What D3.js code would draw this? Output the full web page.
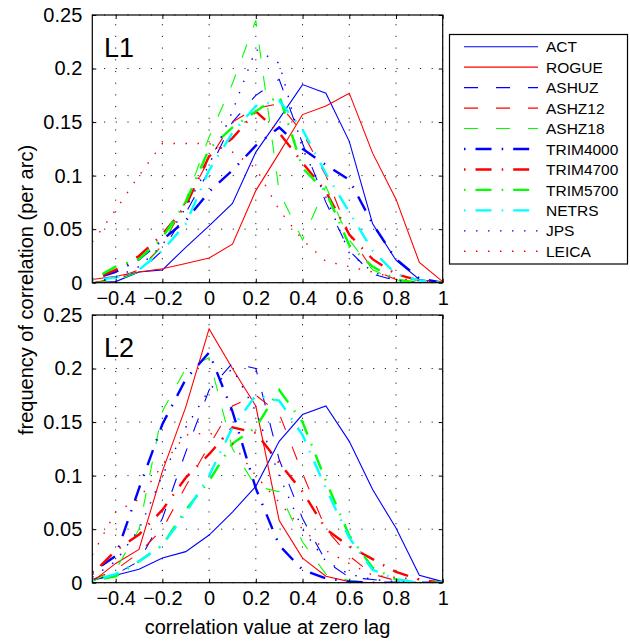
<!DOCTYPE html>
<html>
<head>
<meta charset="utf-8">
<script src="https://cdn.jsdelivr.net/npm/d3@7"></script>
<style>
  body { margin: 0; background: #fff; }
  svg { display: block; font-family: "Liberation Sans", Arial, Helvetica, sans-serif; }
</style>
</head>
<body>
<script>
// histogram bin centres (correlation value)
const xBins = [-0.5, -0.4, -0.3, -0.2, -0.1, 0, 0.1, 0.2, 0.3, 0.4, 0.5, 0.6, 0.7, 0.8, 0.9, 1.0];
const seriesNames = ["ACT", "ROGUE", "ASHUZ", "ASHZ12", "ASHZ18", "TRIM4000", "TRIM4700", "TRIM5700", "NETRS", "JPS", "LEICA"];
const xTicks = [-0.4, -0.2, 0, 0.2, 0.4, 0.6, 0.8, 1];
const yTicks = [0, 0.05, 0.1, 0.15, 0.2, 0.25];

// L1
const l1Act      = [0, 0.001, 0.010, 0.012, 0.033, 0.053, 0.074, 0.122, 0.153, 0.185, 0.177, 0.132, 0.055, 0.021, 0.003, 0];
const l1Rogue    = [0.003, 0.006, 0.010, 0.013, 0.018, 0.023, 0.036, 0.086, 0.121, 0.157, 0.165, 0.177, 0.121, 0.078, 0.019, 0.001];
const l1Ashuz    = [0, 0.003, 0.010, 0.030, 0.065, 0.105, 0.150, 0.175, 0.190, 0.130, 0.075, 0.030, 0.008, 0.002, 0, 0];
const l1Ashz12   = [0, 0.004, 0.012, 0.035, 0.075, 0.115, 0.150, 0.163, 0.167, 0.140, 0.100, 0.045, 0.012, 0.003, 0, 0];
const l1Ashz18   = [0, 0.002, 0.010, 0.035, 0.077, 0.136, 0.186, 0.245, 0.085, 0.040, 0.090, 0.040, 0.012, 0.002, 0, 0];
const l1Trim4000 = [0.003, 0.010, 0.022, 0.040, 0.058, 0.085, 0.105, 0.128, 0.145, 0.125, 0.110, 0.096, 0.055, 0.022, 0.004, 0];
const l1Trim4700 = [0.003, 0.012, 0.025, 0.045, 0.072, 0.118, 0.135, 0.160, 0.140, 0.112, 0.085, 0.045, 0.022, 0.008, 0.002, 0];
const l1Trim5700 = [0.003, 0.015, 0.022, 0.042, 0.075, 0.125, 0.145, 0.160, 0.175, 0.107, 0.085, 0.035, 0.015, 0.003, 0, 0];
const l1Netrs    = [0.002, 0.005, 0.012, 0.030, 0.055, 0.105, 0.140, 0.165, 0.170, 0.143, 0.102, 0.066, 0.030, 0.008, 0.002, 0];
const l1Jps      = [0, 0.005, 0.015, 0.035, 0.070, 0.110, 0.160, 0.218, 0.205, 0.125, 0.080, 0.028, 0.010, 0.002, 0, 0];
const l1Leica    = [0.038, 0.068, 0.100, 0.130, 0.130, 0.130, 0.122, 0.107, 0.068, 0.040, 0.020, 0.015, 0.010, 0.004, 0.002, 0];

// L2
const l2Act      = [0.003, 0.007, 0.0125, 0.023, 0.029, 0.0445, 0.066, 0.090, 0.132, 0.157, 0.165, 0.132, 0.087, 0.051, 0.007, 0.001];
const l2Rogue    = [0.001, 0.018, 0.031, 0.104, 0.164, 0.237, 0.200, 0.165, 0.058, 0.023, 0.006, 0.001, 0, 0, 0, 0];
const l2Ashuz    = [0.002, 0.008, 0.020, 0.060, 0.122, 0.180, 0.205, 0.200, 0.115, 0.060, 0.020, 0.005, 0.003, 0, 0, 0];
const l2Ashz12   = [0.003, 0.012, 0.028, 0.050, 0.090, 0.128, 0.165, 0.175, 0.158, 0.102, 0.050, 0.025, 0.008, 0.002, 0, 0];
const l2Ashz18   = [0.001, 0.012, 0.050, 0.160, 0.200, 0.210, 0.125, 0.090, 0.085, 0.038, 0.008, 0.002, 0, 0, 0, 0];
const l2Trim4000 = [0.010, 0.025, 0.088, 0.148, 0.190, 0.215, 0.160, 0.088, 0.035, 0.012, 0.004, 0.001, 0, 0, 0, 0];
const l2Trim4700 = [0.008, 0.030, 0.045, 0.068, 0.098, 0.120, 0.145, 0.140, 0.112, 0.085, 0.050, 0.034, 0.022, 0.010, 0.003, 0];
const l2Trim5700 = [0.002, 0.006, 0.020, 0.035, 0.068, 0.095, 0.130, 0.145, 0.180, 0.150, 0.095, 0.044, 0.014, 0.003, 0, 0];
const l2Netrs    = [0.002, 0.008, 0.020, 0.035, 0.065, 0.100, 0.145, 0.175, 0.170, 0.138, 0.088, 0.042, 0.012, 0.003, 0, 0];
const l2Jps      = [0.005, 0.020, 0.050, 0.100, 0.145, 0.180, 0.200, 0.160, 0.100, 0.050, 0.020, 0.008, 0.003, 0.001, 0, 0];
const l2Leica    = [0.026, 0.066, 0.078, 0.110, 0.138, 0.140, 0.130, 0.100, 0.075, 0.050, 0.030, 0.018, 0.007, 0.005, 0.003, 0];

const l1Series = [l1Act, l1Rogue, l1Ashuz, l1Ashz12, l1Ashz18, l1Trim4000, l1Trim4700, l1Trim5700, l1Netrs, l1Jps, l1Leica];
const l2Series = [l2Act, l2Rogue, l2Ashuz, l2Ashz12, l2Ashz18, l2Trim4000, l2Trim4700, l2Trim5700, l2Netrs, l2Jps, l2Leica];

// line styles (matlab-like)
const SOLID = null, DASHED = "14,18", DASHDOT = "1.5,10,16,10.2", DOTTED = "1.5,10.5";
const lineStyle = [
  { color: "#0000ff", width: 1.1, dash: SOLID },
  { color: "#ff0000", width: 1.1, dash: SOLID },
  { color: "#0000ff", width: 1.1, dash: DASHED },
  { color: "#ff0000", width: 1.1, dash: DASHED },
  { color: "#00ff00", width: 1.1, dash: DASHED },
  { color: "#0000ff", width: 2.4, dash: DASHDOT },
  { color: "#ff0000", width: 2.4, dash: DASHDOT },
  { color: "#00ff00", width: 2.4, dash: DASHDOT },
  { color: "#00ffff", width: 2.4, dash: DASHDOT },
  { color: "#0000ff", width: 1.4, dash: DOTTED },
  { color: "#ff0000", width: 1.4, dash: DOTTED }
];

const width = 630, height = 641;
const plotLeft = 92.3, plotRight = 442.7, plotH = 267.7;

const svg = d3.select("body").append("svg")
  .attr("width", width)
  .attr("height", height);

const x = d3.scaleLinear().domain([-0.5, 1]).range([plotLeft, plotRight]);
const fmt = d3.format("~g");

function drawPanel(label, top, series, id) {
  const y = d3.scaleLinear().domain([0, 0.25]).range([top + plotH, top]);
  const g = svg.append("g");

  svg.append("clipPath").attr("id", "clip" + id)
    .append("rect")
    .attr("x", plotLeft).attr("y", top)
    .attr("width", plotRight - plotLeft).attr("height", plotH);

  // grid
  g.append("g").selectAll("line")
    .data(xTicks)
    .join("line")
    .attr("x1", d => x(d)).attr("x2", d => x(d))
    .attr("y1", y(0)).attr("y2", y(0.25))
    .attr("stroke", "#222").attr("stroke-width", 1)
    .attr("stroke-dasharray", "1.2,10.5");
  g.append("g").selectAll("line")
    .data(yTicks)
    .join("line")
    .attr("x1", plotLeft).attr("x2", plotRight)
    .attr("y1", d => y(d)).attr("y2", d => y(d))
    .attr("stroke", "#222").attr("stroke-width", 1)
    .attr("stroke-dasharray", "1.2,10.5");

  // series
  const line = d3.line()
    .x((d, i) => x(xBins[i]))
    .y(d => y(d));

  g.append("g").attr("clip-path", `url(#clip${id})`)
    .selectAll("path")
    .data(series)
    .join("path")
    .attr("d", d => line(d))
    .attr("fill", "none")
    .attr("stroke", (d, i) => lineStyle[i].color)
    .attr("stroke-width", (d, i) => lineStyle[i].width)
    .attr("stroke-dasharray", (d, i) => lineStyle[i].dash);

  // axes (inward ticks on all four sides)
  const axB = g.append("g").attr("transform", `translate(0,${y(0)})`)
    .call(d3.axisBottom(x).tickValues(xTicks).tickFormat(fmt)
      .tickSizeInner(-4).tickSizeOuter(0).tickPadding(8));
  const axT = g.append("g").attr("transform", `translate(0,${y(0.25)})`)
    .call(d3.axisTop(x).tickValues(xTicks).tickFormat("")
      .tickSizeInner(-4).tickSizeOuter(0));
  const axL = g.append("g").attr("transform", `translate(${plotLeft},0)`)
    .call(d3.axisLeft(y).tickValues(yTicks).tickFormat(fmt)
      .tickSizeInner(-4).tickSizeOuter(0).tickPadding(10));
  const axR = g.append("g").attr("transform", `translate(${plotRight},0)`)
    .call(d3.axisRight(y).tickValues(yTicks).tickFormat("")
      .tickSizeInner(-4).tickSizeOuter(0));

  [axB, axT, axL, axR].forEach(a => {
    a.select(".domain").remove();
    a.selectAll("line").attr("stroke", "#000");
    a.selectAll("text")
      .attr("fill", "#000")
      .style("font-size", "20px")
      .style("font-family", '"Liberation Sans", Arial, sans-serif');
  });

  // box
  g.append("rect")
    .attr("x", plotLeft).attr("y", top)
    .attr("width", plotRight - plotLeft).attr("height", plotH)
    .attr("fill", "none").attr("stroke", "#000").attr("stroke-width", 1.2);

  g.append("text")
    .attr("x", 104).attr("y", top + 42)
    .style("font-size", "27px")
    .text(label);
}

drawPanel("L1", 15, l1Series, 1);
drawPanel("L2", 315, l2Series, 2);

// axis titles
svg.append("text")
  .attr("x", (plotLeft + plotRight) / 2).attr("y", 634)
  .attr("text-anchor", "middle")
  .style("font-size", "20px")
  .text("correlation value at zero lag");

svg.append("text")
  .attr("transform", "translate(33,290) rotate(-90)")
  .attr("text-anchor", "middle")
  .style("font-size", "20px")
  .text("frequency of correlation (per arc)");

// legend
const legend = svg.append("g");
legend.append("rect")
  .attr("x", 449.5).attr("y", 34.5)
  .attr("width", 178).attr("height", 229.5)
  .attr("fill", "#fff").attr("stroke", "#000").attr("stroke-width", 1.2);

const legendRow = d3.scaleLinear().domain([0, 10]).range([46.7, 251.3]);
const rows = legend.selectAll("g.row")
  .data(seriesNames)
  .join("g")
  .attr("class", "row")
  .attr("transform", (d, i) => `translate(0,${legendRow(i)})`);

rows.append("line")
  .attr("x1", 464).attr("x2", 538)
  .attr("stroke", (d, i) => lineStyle[i].color)
  .attr("stroke-width", (d, i) => lineStyle[i].width)
  .attr("stroke-dasharray", (d, i) => lineStyle[i].dash);

rows.append("text")
  .attr("x", 546).attr("dy", "0.36em")
  .style("font-size", "15.5px")
  .text(d => d);
</script>
</body>
</html>
